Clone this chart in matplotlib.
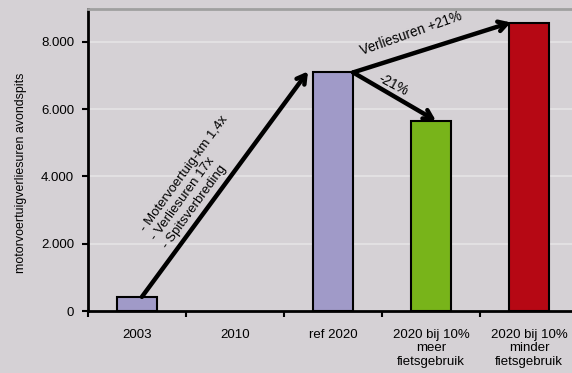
import matplotlib
matplotlib.use("Agg")
import matplotlib.pyplot as plt
import numpy as np

plt.rcParams['font.family'] = ['Liberation Sans', 'DejaVu Sans']

categories = ["2003", "2010", "ref 2020", "2020 bij 10%\nmeer\nfietsgebruik", "2020 bij 10%\nminder\nfietsgebruik"]
values = [420, 0, 7090, 5635, 8565]
colors = ["#a09ac8", "#a09ac8", "#a09ac8", "#78b41a", "#b60814"]
yticks = [0, 2000, 4000, 6000, 8000]
ytick_labels = ["0", "2.000", "4.000", "6.000", "8.000"]
ylabel = "motorvoertuigverliesuren avondspits"

bg = "#d5d1d5"
fig = plt.figure(figsize=(5.72, 3.73), dpi=100, facecolor=bg)
W, H = 572, 373
left, right, top, bottom = 88, 578, 9, 311
ax = fig.add_axes([left / W, 1 - bottom / H, (right - left) / W, (bottom - top) / H])
ax.set_facecolor(bg)

x = np.arange(len(categories))
idx = [0, 2, 3, 4]
ax.bar(x[idx], [values[i] for i in idx], width=0.41,
       color=[colors[i] for i in idx], edgecolor="black", linewidth=1.5, zorder=3)

ax.set_xlim(-0.5, len(categories) - 0.5)
ax.set_ylim(0, 8975)
ax.set_yticks(yticks)
ax.set_yticklabels(ytick_labels, fontsize=9.5)
ax.yaxis.grid(True, color="#e2e0e2", linewidth=1.5, zorder=0)
ax.set_axisbelow(True)

ax.set_xticks(np.arange(len(categories) + 1) - 0.5, minor=False)
ax.set_xticklabels([])
ax.set_xticks(x, minor=True)
ax.set_xticklabels(categories, minor=True, fontsize=9.5, linespacing=1.15)
ax.tick_params(axis="x", which="minor", length=0, pad=13)
ax.tick_params(axis="x", which="major", length=4, width=1.5, direction="out")
ax.tick_params(axis="y", length=4, width=1.5, direction="out", pad=6)

for s in ["left", "bottom"]:
    ax.spines[s].set_linewidth(2)
    ax.spines[s].set_color("black")
ax.spines["top"].set_color("#a0a0a0")
ax.spines["top"].set_linewidth(2)
ax.spines["right"].set_visible(False)

fig.text(21 / W, 1 - 173 / H, ylabel, rotation=90, fontsize=8.9, ha="center", va="center")

aprops = dict(arrowstyle="->,head_length=0.6,head_width=0.35", lw=3.2, color="black",
              shrinkA=0, shrinkB=0)
hw = 0.205
ax.annotate("", xy=(x[2] - hw - 0.05, values[2] + 30), xytext=(x[0] + 0.05, values[0]),
            arrowprops=aprops, zorder=5)
ax.annotate("", xy=(x[3] + 0.05, values[3] + 20), xytext=(x[2] + hw, values[2]),
            arrowprops=aprops, zorder=5)
ax.annotate("", xy=(x[4] - hw + 0.02, values[4] + 10), xytext=(x[2] + hw, values[2]),
            arrowprops=aprops, zorder=5)

ax.text(0.173, 2140, "- Motervoertuig-km 1,4x\n- Verliesuren 17x\n- Spitsverbreding",
        rotation=54, fontsize=9.5, ha="left", va="center", multialignment="left",
        linespacing=1.2, rotation_mode="anchor", zorder=6)
ax.text(2.80, 8262, "Verliesuren +21%", rotation=19.5, fontsize=9.8, ha="center", va="center",
        rotation_mode="anchor", zorder=6)
ax.text(2.61, 6716, "-21%", rotation=-28, fontsize=9.8, ha="center", va="center",
        rotation_mode="anchor", zorder=6)

fig.savefig("out.png", dpi=100, facecolor=bg)
